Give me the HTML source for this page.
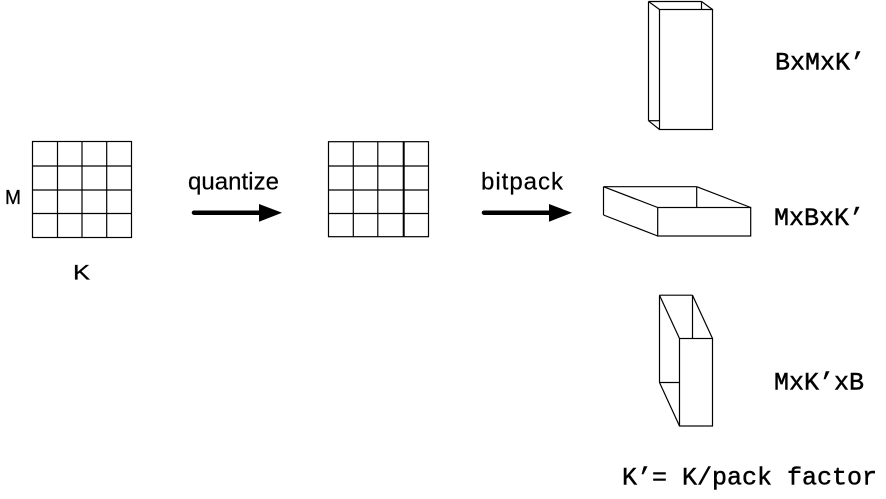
<!DOCTYPE html>
<html>
<head>
<meta charset="utf-8">
<style>
html,body{margin:0;padding:0;background:#fff;}
svg{display:block;}
.s{font-family:"Liberation Sans",Arial,sans-serif;fill:#000;}
.m{font-family:"Liberation Mono","DejaVu Sans Mono",monospace;font-size:25px;fill:#000;stroke:#000;stroke-width:0.45;}
</style>
</head>
<body>
<svg width="886" height="499" viewBox="0 0 886 499" xmlns="http://www.w3.org/2000/svg">
<rect width="886" height="499" fill="#fff"/>
<g stroke="#000" stroke-width="1.2" fill="none">
  <!-- grid 1 -->
  <rect x="32.5" y="141.5" width="99" height="96"/>
  <line x1="57.5" y1="141.5" x2="57.5" y2="237.5"/>
  <line x1="82" y1="141.5" x2="82" y2="237.5"/>
  <line x1="106.7" y1="141.5" x2="106.7" y2="237.5"/>
  <line x1="32.5" y1="166" x2="131.5" y2="166"/>
  <line x1="32.5" y1="190" x2="131.5" y2="190"/>
  <line x1="32.5" y1="213.5" x2="131.5" y2="213.5"/>
  <!-- grid 2 -->
  <rect x="328.5" y="141.7" width="100" height="95"/>
  <line x1="353.3" y1="141.7" x2="353.3" y2="236.7"/>
  <line x1="377.8" y1="141.7" x2="377.8" y2="236.7"/>
  <line x1="403.7" y1="141.7" x2="403.7" y2="236.7" stroke-width="2"/>
  <line x1="328.5" y1="166" x2="428.5" y2="166"/>
  <line x1="328.5" y1="190" x2="428.5" y2="190"/>
  <line x1="328.5" y1="213.5" x2="428.5" y2="213.5"/>

  <!-- box 1 -->
  <rect x="659.5" y="9.5" width="53" height="120"/>
  <line x1="648.5" y1="1.5" x2="701.5" y2="1.5"/>
  <line x1="648.5" y1="1.5" x2="648.5" y2="120.7"/>
  <line x1="701.5" y1="1.5" x2="701.5" y2="9.5"/>
  <line x1="648.5" y1="120.7" x2="659.5" y2="120.7"/>
  <line x1="648.5" y1="1.5" x2="659.5" y2="9.5"/>
  <line x1="701.5" y1="1.5" x2="712.5" y2="9.5"/>
  <line x1="648.5" y1="120.7" x2="659.5" y2="129.5"/>

  <!-- box 2 -->
  <rect x="657.7" y="207.5" width="93" height="28.5"/>
  <line x1="603.5" y1="186.7" x2="696.7" y2="186.7"/>
  <line x1="603.5" y1="186.7" x2="603.5" y2="215"/>
  <line x1="696.7" y1="186.7" x2="696.7" y2="207.5"/>
  <line x1="603.5" y1="186.7" x2="657.7" y2="207.5"/>
  <line x1="696.7" y1="186.7" x2="750.7" y2="207.5"/>
  <line x1="603.5" y1="215" x2="657.7" y2="236"/>

  <!-- box 3 -->
  <rect x="679.5" y="338.5" width="33" height="87.5"/>
  <line x1="659.5" y1="295.2" x2="692.5" y2="295.2"/>
  <line x1="659.5" y1="295.2" x2="659.5" y2="382.5"/>
  <line x1="692.5" y1="295.2" x2="692.5" y2="338.5"/>
  <line x1="659.5" y1="382.5" x2="679.5" y2="382.5"/>
  <line x1="659.5" y1="295.2" x2="679.5" y2="338.5"/>
  <line x1="692.5" y1="295.2" x2="712.5" y2="338.5"/>
  <line x1="659.5" y1="382.5" x2="679.5" y2="426"/>
</g>

<!-- arrows -->
<g>
  <line x1="194" y1="212.7" x2="262" y2="212.7" stroke="#000" stroke-width="4.5" stroke-linecap="round"/>
  <polygon points="259,204 282,212.7 259,221.7" fill="#000"/>
  <line x1="484" y1="212.7" x2="552" y2="212.7" stroke="#000" stroke-width="4.5" stroke-linecap="round"/>
  <polygon points="549,204 572,212.7 549,221.7" fill="#000"/>
</g>

<!-- sans labels -->
<text class="s" x="5" y="204" font-size="20" textLength="16" lengthAdjust="spacingAndGlyphs" stroke="#000" stroke-width="0.3">M</text>
<text class="s" x="73" y="279.5" font-size="21" textLength="17" lengthAdjust="spacingAndGlyphs" stroke="#000" stroke-width="0.3">K</text>
<text class="s" x="188" y="189.5" font-size="24" textLength="91" lengthAdjust="spacing" stroke="#000" stroke-width="0.2">quantize</text>
<text class="s" x="481" y="189.3" font-size="24" textLength="82" lengthAdjust="spacing" stroke="#000" stroke-width="0.2">bitpack</text>

<!-- mono labels -->
<text class="m" x="775" y="69.3">BxMxK’</text>
<text class="m" x="774" y="225">MxBxK’</text>
<text class="m" x="774" y="389.5">MxK’xB</text>
<text class="m" x="622" y="484.5">K’= K/pack factor</text>
</svg>
</body>
</html>
